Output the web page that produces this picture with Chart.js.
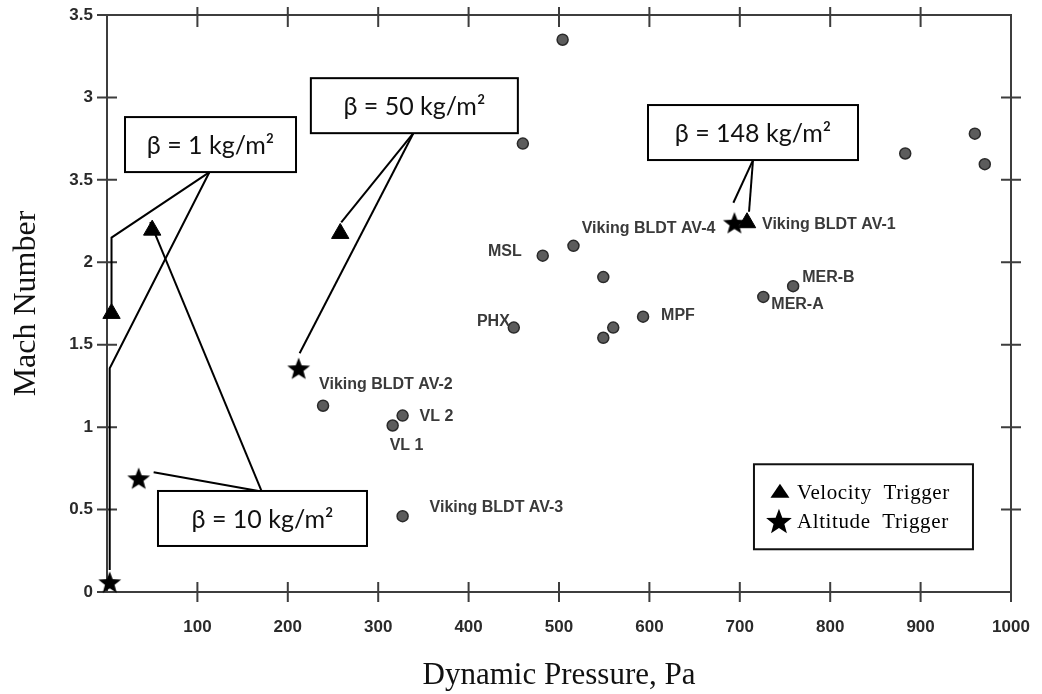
<!DOCTYPE html>
<html>
<head>
<meta charset="utf-8">
<title>Mach number vs dynamic pressure</title>
<script src="https://cdn.jsdelivr.net/npm/chart.js@4.4.1/dist/chart.umd.min.js"></script>
<style>
  html, body { margin: 0; padding: 0; background: #fff; }
  canvas { display: block; }
</style>
</head>
<body>
<canvas id="chart" width="1042" height="694"></canvas>
<script>
// tick labels (the 2.5 tick is printed as "3.5" on the original figure)
const xTickLabels = ['', '100', '200', '300', '400', '500', '600', '700', '800', '900', '1000'];
const yTickLabels = ['0', '0.5', '1', '1.5', '2', '3.5', '3', '3.5'];

// flown vehicles / flight tests: dynamic pressure (Pa) and Mach number
const vehicleNames = ['', '', '', '', '', 'MSL', '', '', 'MER-B', 'MER-A', 'MPF', '', '', 'PHX',
  'Viking BLDT AV-2', 'VL 2', 'VL 1', 'Viking BLDT AV-3'];
const vehicleQ = [504, 460, 883, 960, 971, 482, 516, 549, 759, 726, 593, 560, 549, 450, 239, 327, 316, 327];
const vehicleMach = [3.35, 2.72, 2.66, 2.78, 2.595, 2.04, 2.10, 1.91, 1.855, 1.79, 1.67, 1.604, 1.542, 1.604,
  1.13, 1.07, 1.01, 0.46];

// trigger points for each ballistic coefficient
const betaLabels = ['β = 1 kg/m²', 'β = 10 kg/m²', 'β = 50 kg/m²', 'β = 148 kg/m²'];
const velocityQ = [5, 50, 258, 708];
const velocityMach = [1.69, 2.195, 2.175, 2.24];
const velocityNames = ['', '', '', 'Viking BLDT AV-1'];
const altitudeQ = [3, 35, 212, 694];
const altitudeMach = [0.06, 0.69, 1.357, 2.24];
const altitudeNames = ['', '', '', 'Viking BLDT AV-4'];

const legendLabels = ['Velocity  Trigger', 'Altitude  Trigger'];

// where the callout boxes sit (box centre in axis units, size in px) and how the leaders run
const calloutLayout = [
  { beta: 0, q: 114.5, m: 2.714, w: 171, h: 55, side: 'bottom', leaders: [
    { set: 'velocity', dx: -1, elbow: 2.15, end: [0, -9] },
    { set: 'altitude', dx: -1, elbow: 1.357, end: [0, -12] }] },
  { beta: 1, q: 172, m: 0.446, w: 209, h: 55, side: 'top', leaders: [
    { set: 'velocity', dx: -1, end: [-2, -8] },
    { set: 'altitude', dx: -4, end: [15, -6] }] },
  { beta: 2, q: 340, m: 2.95, w: 207, h: 55, side: 'bottom', leaders: [
    { set: 'velocity', dx: -1, end: [1, -11] },
    { set: 'altitude', dx: -1, end: [1, -15] }] },
  { beta: 3, q: 714.6, m: 2.787, w: 210, h: 55, side: 'bottom', leaders: [
    { set: 'altitude', dx: 0, end: [-1, -20] },
    { set: 'velocity', dx: 0, end: [2, -11] }] }
];

// text tags next to points: [dx, dy, align]
const tagPlacement = {
  vehicle: { 5: [-21, -4, 'right'], 8: [9, -9, 'left'], 9: [8, 8, 'left'], 10: [18, -1, 'left'],
    13: [-4, -6, 'right'], 14: [-4, -21, 'left'], 15: [17, 1, 'left'], 16: [-3, 20, 'left'], 17: [27, -9, 'left'] },
  altitude: { 3: [-19, 6, 'right'] },
  velocity: { 3: [15, 2, 'left'] }
};

const legendBox = { q: 836.8, m: 0.517, w: 219, h: 85 };

function starPath(g, x, y, r) {
  g.beginPath();
  for (let k = 0; k < 10; k++) {
    const a = -Math.PI / 2 + k * Math.PI / 5;
    const rr = k % 2 ? r * 0.42 : r;
    g.lineTo(x + rr * Math.cos(a), y + rr * Math.sin(a));
  }
  g.closePath();
}

function starImage(r) {
  const c = document.createElement('canvas');
  const s = Math.ceil(r * 2 + 4);
  c.width = c.height = s;
  const g = c.getContext('2d');
  starPath(g, s / 2, s / 2 + r * 0.095, r);
  g.fillStyle = '#000';
  g.fill();
  return c;
}

function trianglePath(g, x, y, w, h) {
  g.beginPath();
  g.moveTo(x, y - h * 0.6);
  g.lineTo(x + w / 2, y + h * 0.4);
  g.lineTo(x - w / 2, y + h * 0.4);
  g.closePath();
}

function toPoints(xs, ys) {
  return xs.map((v, i) => ({ x: v, y: ys[i] }));
}

// keep the plot box fixed: no extra room reserved for edge labels
function fixSize(prop, size) {
  return s => {
    s[prop] = size;
    s.paddingLeft = s.paddingRight = s.paddingTop = s.paddingBottom = 0;
  };
}

// plot frame with ticks crossing every side
const framePlugin = {
  id: 'frame',
  beforeDatasetsDraw(chart) {
    const { ctx, chartArea: a, scales: { x, y } } = chart;
    ctx.save();
    ctx.strokeStyle = '#3d3d3d';
    ctx.lineWidth = 2;
    ctx.strokeRect(a.left, a.top, a.right - a.left, a.bottom - a.top);
    ctx.beginPath();
    x.ticks.forEach(t => {
      const px = x.getPixelForValue(t.value);
      if (t.value > 0) {
        ctx.moveTo(px, a.bottom - 10);
        ctx.lineTo(px, a.bottom + 10);
      }
      if (t.value > 0 && t.value < 1000) {
        ctx.moveTo(px, a.top - 8);
        ctx.lineTo(px, a.top + 12);
      }
    });
    y.ticks.forEach(t => {
      const py = y.getPixelForValue(t.value);
      ctx.moveTo(a.left - 10, py);
      ctx.lineTo(a.left + 10, py);
      if (t.value > 0 && t.value < 3.5) {
        ctx.moveTo(a.right - 10, py);
        ctx.lineTo(a.right + 10, py);
      }
    });
    ctx.stroke();
    ctx.restore();
  }
};

// beta callouts, point tags and the trigger legend
const calloutPlugin = {
  id: 'callouts',
  afterDatasetsDraw(chart) {
    const { ctx, scales: { x, y } } = chart;
    const sets = {
      vehicle: [vehicleQ, vehicleMach, vehicleNames],
      velocity: [velocityQ, velocityMach, velocityNames],
      altitude: [altitudeQ, altitudeMach, altitudeNames]
    };
    ctx.save();
    ctx.lineWidth = 2;
    ctx.strokeStyle = '#000';

    calloutLayout.forEach(c => {
      const cx = x.getPixelForValue(c.q), cy = y.getPixelForValue(c.m);
      const left = cx - c.w / 2, top = cy - c.h / 2;
      const ay = c.side === 'bottom' ? top + c.h : top;
      c.leaders.forEach(l => {
        const [qs, ms] = sets[l.set];
        const mx = x.getPixelForValue(qs[c.beta]), my = y.getPixelForValue(ms[c.beta]);
        ctx.beginPath();
        ctx.moveTo(cx + l.dx, ay);
        if (l.elbow !== undefined) ctx.lineTo(mx + l.end[0], y.getPixelForValue(l.elbow));
        ctx.lineTo(mx + l.end[0], my + l.end[1]);
        ctx.stroke();
      });
      ctx.fillStyle = '#fff';
      ctx.fillRect(left, top, c.w, c.h);
      ctx.strokeRect(left, top, c.w, c.h);
      ctx.fillStyle = '#111';
      ctx.font = '25px Lato, "Open Sans", sans-serif';
      ctx.textAlign = 'center';
      ctx.textBaseline = 'middle';
      ctx.fillText(betaLabels[c.beta], cx, cy + 1);
    });

    // point tags
    ctx.font = 'bold 16px "Liberation Sans", Arial, sans-serif';
    ctx.fillStyle = '#3a3a3a';
    ctx.textBaseline = 'middle';
    Object.keys(tagPlacement).forEach(key => {
      const [qs, ms, names] = sets[key];
      Object.keys(tagPlacement[key]).forEach(i => {
        const [dx, dy, align] = tagPlacement[key][i];
        ctx.textAlign = align;
        ctx.fillText(names[i], x.getPixelForValue(qs[i]) + dx, y.getPixelForValue(ms[i]) + dy);
      });
    });

    // legend
    const lx = x.getPixelForValue(legendBox.q), ly = y.getPixelForValue(legendBox.m);
    const bl = lx - legendBox.w / 2, bt = ly - legendBox.h / 2;
    ctx.fillStyle = '#fff';
    ctx.fillRect(bl, bt, legendBox.w, legendBox.h);
    ctx.strokeStyle = '#111';
    ctx.strokeRect(bl, bt, legendBox.w, legendBox.h);
    ctx.fillStyle = '#000';
    trianglePath(ctx, bl + 26, bt + 28, 19, 14);
    ctx.fill();
    starPath(ctx, bl + 25, bt + 58, 13.5);
    ctx.fill();
    ctx.font = '21px "Liberation Serif", "Times New Roman", serif';
    ctx.textAlign = 'left';
    ctx.letterSpacing = '0.6px';
    ctx.fillText(legendLabels[0], bl + 43, bt + 29);
    ctx.fillText(legendLabels[1], bl + 43, bt + 58);
    ctx.restore();
  }
};

new Chart(document.getElementById('chart'), {
  type: 'scatter',
  data: {
    datasets: [
      {
        label: 'Flight data',
        data: toPoints(vehicleQ, vehicleMach),
        pointStyle: 'circle',
        pointRadius: 5.5,
        backgroundColor: '#5c5c5c',
        borderColor: '#2a2a2a',
        borderWidth: 1.5,
        clip: false
      },
      {
        label: legendLabels[0],
        data: toPoints(velocityQ, velocityMach),
        pointStyle: 'triangle',
        pointRadius: 10,
        backgroundColor: '#000',
        borderColor: '#000',
        borderWidth: 1,
        clip: false
      },
      {
        label: legendLabels[1],
        data: toPoints(altitudeQ, altitudeMach),
        pointStyle: starImage(12),
        pointRadius: 12,
        clip: false
      }
    ]
  },
  options: {
    responsive: false,
    animation: false,
    events: [],
    layout: { padding: { top: 15, right: 31, left: 0, bottom: 0 } },
    plugins: { legend: { display: false }, tooltip: { enabled: false } },
    scales: {
      x: {
        type: 'linear',
        min: 0,
        max: 1000,
        afterFit: fixSize('height', 102),
        grid: { display: false, drawTicks: false },
        border: { display: false },
        ticks: {
          stepSize: 100,
          autoSkip: false,
          maxRotation: 0,
          padding: 25,
          color: '#2a2a2a',
          font: { family: '"Liberation Sans", Arial, sans-serif', size: 17, weight: 'bold' },
          callback: (v, i) => xTickLabels[i]
        },
        title: {
          display: true,
          text: 'Dynamic Pressure, Pa',
          color: '#111',
          font: { family: '"Liberation Serif", "Times New Roman", serif', size: 31 },
          padding: { top: 0, bottom: 0 }
        }
      },
      y: {
        min: 0,
        max: 3.5,
        afterFit: fixSize('width', 107),
        grid: { display: false, drawTicks: false },
        border: { display: false },
        ticks: {
          stepSize: 0.5,
          padding: 14,
          color: '#2a2a2a',
          font: { family: '"Liberation Sans", Arial, sans-serif', size: 17, weight: 'bold' },
          callback: (v, i) => yTickLabels[i]
        },
        title: {
          display: true,
          text: 'Mach Number',
          color: '#111',
          font: { family: '"Liberation Serif", "Times New Roman", serif', size: 32 },
          padding: { top: 7, bottom: 0 }
        }
      }
    }
  },
  plugins: [framePlugin, calloutPlugin]
});
</script>
</body>
</html>
